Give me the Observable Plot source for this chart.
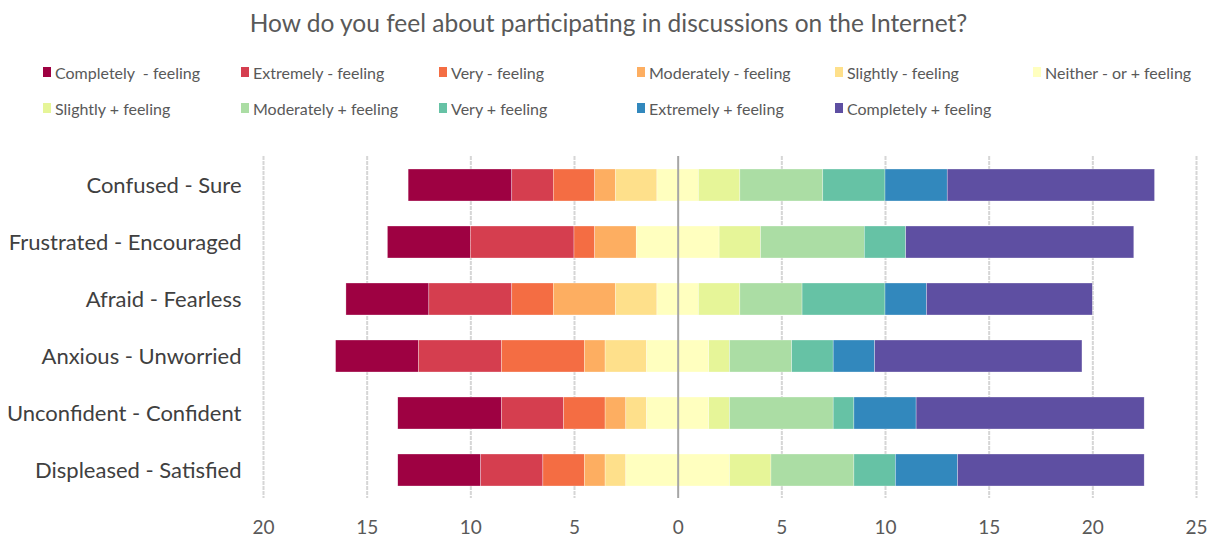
<!DOCTYPE html>
<html>
<head>
<meta charset="utf-8">
<script src="https://cdn.jsdelivr.net/npm/d3@7"></script>
<script src="https://cdn.jsdelivr.net/npm/@observablehq/plot@0.6"></script>
<style>
  body { margin: 0; background: #fff; font-family: Lato, "Open Sans", sans-serif; }
  #title { position: absolute; top: 8px; left: 0; width: 1217px; text-align: center; font-size: 24.5px; color: #595959; }
  #legend { position: absolute; top: 62px; left: 43px; width: 1180px; display: grid; grid-template-columns: repeat(6, 198px); row-gap: 16px; }
  .item { display: flex; align-items: center; font-size: 16px; color: #595959; white-space: pre; height: 20px; }
  .sw { width: 8px; height: 10px; margin-right: 4px; flex: none; }
  #chart { position: absolute; top: 140px; left: 0; }
</style>
</head>
<body>
<div id="title">How do you feel about participating in discussions on the Internet?</div>
<div id="legend"></div>
<div id="chart"></div>
<script>
const categories = ["Confused - Sure", "Frustrated - Encouraged", "Afraid - Fearless", "Anxious - Unworried", "Unconfident - Confident", "Displeased - Satisfied"];
const levels = ["Completely  - feeling", "Extremely - feeling", "Very - feeling", "Moderately - feeling", "Slightly - feeling", "Neither - or + feeling", "Slightly + feeling", "Moderately + feeling", "Very + feeling", "Extremely + feeling", "Completely + feeling"];
const colors = ["#9e0142", "#d53e4f", "#f46d43", "#fdae61", "#fee08b", "#ffffbf", "#e6f598", "#abdda4", "#66c2a5", "#3288bd", "#5e4fa2"];
// counts per category, in order of levels
const completelyNeg = [5, 4, 4, 4, 5, 4];
const extremelyNeg  = [2, 5, 4, 4, 3, 3];
const veryNeg       = [2, 1, 2, 4, 2, 2];
const moderatelyNeg = [1, 2, 3, 1, 1, 1];
const slightlyNeg   = [2, 0, 2, 2, 1, 1];
const neither       = [2, 4, 2, 3, 3, 5];
const slightlyPos   = [2, 2, 2, 1, 1, 2];
const moderatelyPos = [4, 5, 3, 3, 5, 4];
const veryPos       = [3, 2, 4, 2, 1, 2];
const extremelyPos  = [3, 0, 2, 2, 3, 3];
const completelyPos = [10, 11, 8, 10, 11, 9];
const xTickValues = [-20, -15, -10, -5, 0, 5, 10, 15, 20, 25];
const xTickLabels = ["20", "15", "10", "5", "0", "5", "10", "15", "20", "25"];

const series = [completelyNeg, extremelyNeg, veryNeg, moderatelyNeg, slightlyNeg, neither, slightlyPos, moderatelyPos, veryPos, extremelyPos, completelyPos];

const rows = [];
categories.forEach((cat, i) => {
  const neg = completelyNeg[i] + extremelyNeg[i] + veryNeg[i] + moderatelyNeg[i] + slightlyNeg[i] + neither[i] / 2;
  let start = -neg;
  series.forEach((s, j) => {
    const v = s[i];
    if (v > 0) rows.push({cat, level: levels[j], x1: start, x2: start + v});
    start += v;
  });
});

// legend
const leg = document.getElementById("legend");
levels.forEach((l, j) => {
  const d = document.createElement("div");
  d.className = "item";
  d.innerHTML = `<span class="sw" style="background:${colors[j]}"></span>${l}`;
  leg.appendChild(d);
});

const plot = Plot.plot({
  width: 1217,
  height: 404,
  marginLeft: 263,
  marginRight: 21,
  marginTop: 16,
  marginBottom: 46,
  style: {fontFamily: "Lato, 'Open Sans', sans-serif", color: "#595959", background: "#fff"},
  x: {domain: [-20, 25]},
  y: {domain: categories, paddingInner: 0.44, paddingOuter: 0.2, label: null},
  color: {domain: levels, range: colors},
  marks: [
    Plot.ruleX(xTickValues.filter(d => d !== 0), {stroke: "#d6d6d6", strokeWidth: 2, strokeDasharray: "4,1"}),
    Plot.barX(rows, {y: "cat", x1: "x1", x2: "x2", fill: "level", stroke: "white", strokeOpacity: 0.6, strokeWidth: 0.5}),
    Plot.ruleX([0], {stroke: "#a6a6a6", strokeWidth: 2}),
    Plot.axisX({ticks: xTickValues, tickFormat: (d, i) => xTickLabels[i], tickSize: 0, tickPadding: 22, fontSize: 19, label: null, fill: "#595959"}),
    Plot.axisY({tickSize: 0, tickPadding: 22, fontSize: 22, label: null, fill: "#404040"})
  ]
});
document.getElementById("chart").appendChild(plot);
</script>
</body>
</html>
